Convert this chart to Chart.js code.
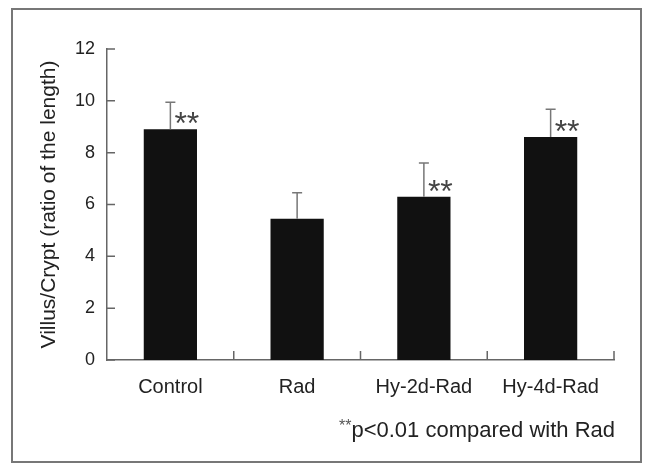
<!DOCTYPE html>
<html>
<head>
<meta charset="utf-8">
<script src="https://cdn.jsdelivr.net/npm/chart.js@4"></script>
<style>
  html, body { margin: 0; padding: 0; background: #fff; }
  #wrap { position: relative; width: 650px; height: 464px; }
  #frame { position: absolute; left: 11px; top: 8px; width: 631px; height: 455px; border: 2px solid #777; box-sizing: border-box; }
  #chart { position: absolute; left: 0; top: 0; }
  #note { position: absolute; right: 35px; top: 415px; font: 22px "Liberation Sans", Arial, sans-serif; line-height: 22px; color: #222; white-space: nowrap; }
  #note sup { font-size: 16px; vertical-align: 6px; color: #555; }
</style>
</head>
<body>
<div id="wrap">
  <div id="frame"></div>
  <canvas id="chart" width="650" height="464"></canvas>
  <div id="note"><sup>**</sup>p&lt;0.01 compared with Rad</div>
</div>
<script>
// Villus/Crypt ratio per group
const groups = ['Control', 'Rad', 'Hy-2d-Rad', 'Hy-4d-Rad'];
const means = [8.9, 5.45, 6.3, 8.6];
const sd = [1.05, 1.0, 1.3, 1.08];
const marks = ['**', '', '**', '**'];
const yTicks = [0, 2, 4, 6, 8, 10, 12];

const axisColor = '#666';
const font = 'Liberation Sans';

// error bars (upper only), significance marks and inward ticks
const extras = {
    id: 'extras',
    afterDatasetsDraw(chart) {
        const ctx = chart.ctx;
        const x = chart.scales.x;
        const y = chart.scales.y;
        const bars = chart.getDatasetMeta(0).data;
        ctx.save();
        ctx.strokeStyle = '#777';
        ctx.lineWidth = 1.5;
        bars.forEach((bar, i) => {
            const top = y.getPixelForValue(means[i] + sd[i]);
            ctx.beginPath();
            ctx.moveTo(bar.x, bar.y);
            ctx.lineTo(bar.x, top);
            ctx.moveTo(bar.x - 5, top);
            ctx.lineTo(bar.x + 5, top);
            ctx.stroke();
            if (marks[i]) {
                ctx.fillStyle = '#444';
                ctx.font = '32px "' + font + '"';
                ctx.textAlign = 'left';
                ctx.textBaseline = 'alphabetic';
                ctx.fillText(marks[i], bar.x + 4, bar.y + 5);
            }
        });

        // ticks pointing into the plot
        ctx.strokeStyle = axisColor;
        ctx.beginPath();
        yTicks.forEach(v => {
            const py = y.getPixelForValue(v);
            ctx.moveTo(x.left, py);
            ctx.lineTo(x.left + 8, py);
        });
        for (let i = 1; i <= groups.length; i++) {
            const px = i < groups.length
                ? (x.getPixelForValue(i - 1) + x.getPixelForValue(i)) / 2
                : x.right;
            ctx.moveTo(px, y.bottom);
            ctx.lineTo(px, y.bottom - 9);
        }
        ctx.stroke();
        ctx.restore();
    }
};

new Chart(document.getElementById('chart'), {
    type: 'bar',
    data: {
        labels: groups,
        datasets: [{
            data: means,
            backgroundColor: '#111',
            borderWidth: 0,
            barPercentage: 0.42,
            categoryPercentage: 1
        }]
    },
    options: {
        responsive: false,
        animation: false,
        layout: { padding: { top: 49, right: 36, left: 0, bottom: 0 } },
        plugins: {
            legend: { display: false },
            tooltip: { enabled: false }
        },
        scales: {
            x: {
                grid: { display: false, drawTicks: false },
                border: { display: true, color: axisColor, width: 1.5 },
                ticks: { color: '#222', padding: 15, font: { family: font, size: 20 } },
                afterFit: s => { s.height = 104; }
            },
            y: {
                min: 0,
                max: 12,
                afterBuildTicks: s => { s.ticks = yTicks.map(v => ({ value: v })); },
                grid: { display: false, drawTicks: false },
                border: { display: true, color: axisColor, width: 1.5 },
                ticks: { color: '#222', padding: 12, font: { family: font, size: 18 } },
                title: {
                    display: true,
                    text: 'Villus/Crypt (ratio of the length)',
                    color: '#222',
                    font: { family: font, size: 21 },
                    padding: { top: 37, bottom: 0 }
                },
                afterFit: s => { s.width = 107; }
            }
        }
    },
    plugins: [extras]
});
</script>
</body>
</html>
